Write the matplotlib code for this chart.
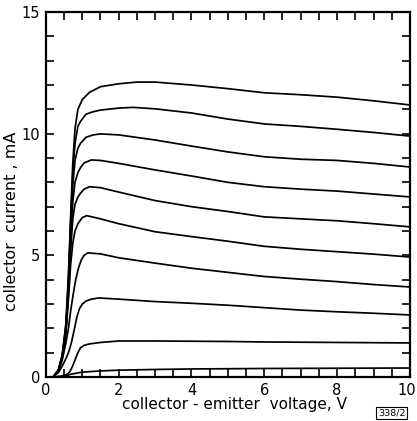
import matplotlib
matplotlib.use("Agg")
import matplotlib.pyplot as plt
import matplotlib.transforms as mtransforms
from matplotlib.ticker import MultipleLocator

# Output characteristics: collector current (mA) vs collector-emitter voltage (V)
v1 = [0.2, 0.35, 0.45, 0.55, 0.62, 0.68, 0.74, 0.8, 0.88, 1.0, 1.2, 1.5, 2.0, 2.5, 3.0, 4.0, 5.0, 6.0, 7.0, 8.0, 9.0, 10.0]
i1 = [0, 0.3, 0.9, 2.2, 4.2, 6.6, 8.8, 10.2, 11.0, 11.4, 11.7, 11.93, 12.05, 12.12, 12.12, 12.0, 11.85, 11.68, 11.6, 11.5, 11.35, 11.18]

v2 = [0.2, 0.35, 0.45, 0.55, 0.62, 0.68, 0.74, 0.8, 0.88, 0.95, 1.1, 1.3, 1.5, 2.0, 2.4, 3.0, 4.0, 5.0, 6.0, 7.0, 8.0, 9.0, 10.0]
i2 = [0, 0.3, 0.9, 2.1, 4.0, 6.3, 8.4, 9.6, 10.3, 10.5, 10.8, 10.9, 10.97, 11.05, 11.08, 11.02, 10.85, 10.6, 10.4, 10.3, 10.18, 10.05, 9.9]

v3 = [0.2, 0.35, 0.45, 0.55, 0.62, 0.68, 0.74, 0.8, 0.88, 0.95, 1.1, 1.3, 1.5, 2.0, 3.0, 4.0, 5.0, 6.0, 7.0, 8.0, 9.0, 10.0]
i3 = [0, 0.3, 0.85, 2.0, 3.8, 6.0, 7.9, 8.9, 9.4, 9.6, 9.85, 9.95, 9.99, 9.95, 9.74, 9.49, 9.25, 9.05, 8.95, 8.9, 8.78, 8.63]

v4 = [0.2, 0.35, 0.45, 0.55, 0.62, 0.68, 0.74, 0.8, 0.88, 0.95, 1.05, 1.25, 1.5, 2.0, 3.0, 4.0, 5.0, 6.0, 7.0, 8.0, 9.0, 10.0]
i4 = [0, 0.3, 0.85, 1.9, 3.6, 5.6, 7.2, 8.0, 8.4, 8.6, 8.8, 8.92, 8.9, 8.78, 8.51, 8.26, 8.0, 7.82, 7.72, 7.64, 7.52, 7.4]

v5 = [0.2, 0.35, 0.45, 0.55, 0.62, 0.68, 0.74, 0.8, 0.88, 0.95, 1.05, 1.2, 1.5, 2.0, 3.0, 4.0, 5.0, 6.0, 7.0, 8.0, 9.0, 10.0]
i5 = [0, 0.3, 0.85, 1.85, 3.4, 5.2, 6.5, 7.1, 7.4, 7.55, 7.72, 7.82, 7.78, 7.6, 7.25, 7.0, 6.8, 6.58, 6.5, 6.42, 6.3, 6.17]

v6 = [0.2, 0.35, 0.45, 0.55, 0.62, 0.68, 0.74, 0.8, 0.88, 0.95, 1.0, 1.12, 1.5, 2.0, 3.0, 4.0, 5.0, 6.0, 7.0, 8.0, 9.0, 10.0]
i6 = [0, 0.28, 0.8, 1.8, 3.2, 4.6, 5.5, 6.0, 6.3, 6.45, 6.55, 6.63, 6.5, 6.3, 5.97, 5.77, 5.58, 5.37, 5.25, 5.15, 5.05, 4.93]

v7 = [0.2, 0.35, 0.45, 0.55, 0.62, 0.68, 0.75, 0.82, 0.9, 0.97, 1.05, 1.15, 1.5, 2.0, 3.0, 4.0, 5.0, 6.0, 7.0, 8.0, 9.0, 10.0]
i7 = [0, 0.25, 0.7, 1.4, 2.0, 2.7, 3.4, 4.0, 4.5, 4.8, 5.0, 5.1, 5.06, 4.9, 4.68, 4.47, 4.3, 4.13, 4.02, 3.92, 3.8, 3.7]

v8 = [0.2, 0.35, 0.45, 0.55, 0.62, 0.7, 0.78, 0.85, 0.92, 1.0, 1.1, 1.25, 1.45, 2.0, 3.0, 4.0, 5.0, 6.0, 7.0, 8.0, 9.0, 10.0]
i8 = [0, 0.2, 0.45, 0.75, 1.0, 1.4, 1.95, 2.45, 2.8, 3.0, 3.12, 3.2, 3.25, 3.2, 3.1, 3.03, 2.95, 2.85, 2.75, 2.68, 2.62, 2.55]

v9 = [0.2, 0.4, 0.55, 0.65, 0.72, 0.8, 0.88, 0.95, 1.05, 1.2, 1.5, 2.0, 3.0, 4.0, 5.0, 6.0, 7.0, 8.0, 9.0, 10.0]
i9 = [0, 0.03, 0.08, 0.2, 0.4, 0.7, 1.0, 1.2, 1.3, 1.36, 1.42, 1.48, 1.48, 1.47, 1.46, 1.44, 1.43, 1.42, 1.41, 1.4]

v10 = [0.2, 0.5, 0.7, 1.0, 1.5, 2.0, 3.0, 4.0, 6.0, 8.0, 10.0]
i10 = [0, 0.03, 0.12, 0.2, 0.25, 0.28, 0.31, 0.33, 0.35, 0.36, 0.37]

curves = [(v1, i1), (v2, i2), (v3, i3), (v4, i4), (v5, i5),
          (v6, i6), (v7, i7), (v8, i8), (v9, i9), (v10, i10)]

x_ticks = [0, 2, 4, 6, 8, 10]
y_ticks = [0, 5, 10, 15]
x_label = "collector - emitter  voltage, V"
y_label = "collector  current , mA"
code = "338/2"

plt.rcParams['font.family'] = ['DejaVu Sans']
fig = plt.figure(figsize=(4.17, 4.21), dpi=100)
ax = fig.add_axes([0.110, 0.1045, 0.873, 0.867])

for v, i in curves:
    ax.plot(v, i, color='black', lw=1.25, solid_capstyle='round', solid_joinstyle='round')

ax.set_xlim(0, 10)
ax.set_ylim(0, 15)
ax.set_xticks(x_ticks)
ax.set_yticks(y_ticks)
ax.xaxis.set_minor_locator(MultipleLocator(0.5))
ax.yaxis.set_minor_locator(MultipleLocator(1))
ax.tick_params(which='both', direction='in', top=True, right=True, width=1.2, color='black')
ax.tick_params(which='major', length=6, labelsize=10.5, pad=4)
ax.tick_params(which='minor', length=6)
for s in ax.spines.values():
    s.set_linewidth(1.6)

# keep the last x tick label inside the figure
last = ax.get_xticklabels()[-1]
last.set_transform(last.get_transform() + mtransforms.ScaledTranslation(-3 / 100, 0, fig.dpi_scale_trans))

ax.set_xlabel(x_label, fontsize=11)
ax.xaxis.set_label_coords(0.519, -0.056)
ax.set_ylabel(y_label, fontsize=11.5)
ax.yaxis.set_label_coords(-0.075, 0.427)

fig.text(0.972, 0.008, code, fontsize=6.8, ha='right', va='bottom',
         bbox=dict(boxstyle='square,pad=0.15', fc='white', ec='black', lw=0.8))

fig.savefig("out.png", dpi=100)
